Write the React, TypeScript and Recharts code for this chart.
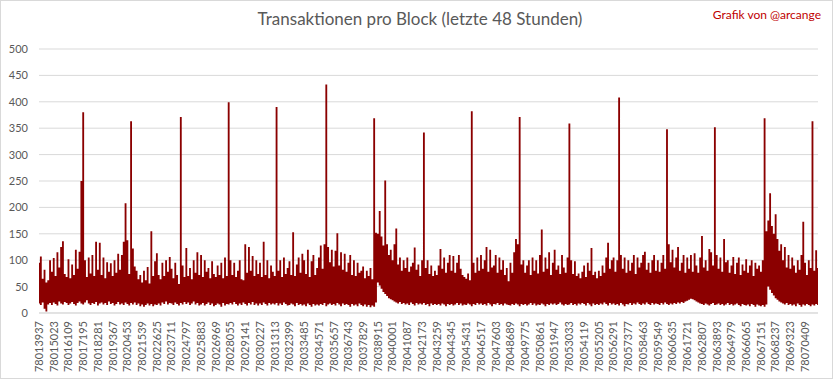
import React from 'react';
import { AreaChart, Area, XAxis, YAxis, CartesianGrid } from 'recharts';

// tick labels along the x axis (one every 1086 blocks)
const blockLabels = [
  '78013937', '78015023', '78016109', '78017195', '78018281', '78019367', '78020453', '78021539',
  '78022625', '78023711', '78024797', '78025883', '78026969', '78028055', '78029141', '78030227',
  '78031313', '78032399', '78033485', '78034571', '78035657', '78036743', '78037829', '78038915',
  '78040001', '78041087', '78042173', '78043259', '78044345', '78045431', '78046517', '78047603',
  '78048689', '78049775', '78050861', '78051947', '78053033', '78054119', '78055205', '78056291',
  '78057377', '78058463', '78059549', '78060635', '78061721', '78062807', '78063893', '78064979',
  '78066065', '78067151', '78068237', '78069323', '78070409',
];

// max transactions per group of blocks, 8 groups per label interval
const txHigh = [
  95, 107, 65, 82, 58, 62, 100, 78,
  104, 70, 115, 86, 125, 136, 74, 68,
  102, 66, 92, 72, 120, 84, 116, 250,
  380, 100, 68, 105, 75, 110, 70, 135,
  82, 133, 72, 105, 66, 96, 78, 94,
  70, 100, 76, 112, 82, 110, 135, 208,
  138, 74, 363, 122, 88, 80, 64, 72,
  58, 80, 62, 87, 56, 155, 70, 98,
  113, 72, 64, 95, 70, 100, 78, 106,
  84, 66, 95, 72, 55, 371, 90, 68,
  123, 70, 85, 64, 100, 76, 115, 72,
  110, 68, 100, 78, 85, 66, 98, 74,
  68, 90, 72, 95, 66, 105, 70, 399,
  100, 72, 95, 68, 80, 100, 64, 62,
  130, 76, 125, 80, 108, 70, 100, 74,
  95, 68, 135, 72, 100, 66, 90, 78,
  70, 390, 80, 100, 68, 105, 74, 85,
  98, 72, 153, 70, 92, 105, 76, 112,
  100, 74, 120, 68, 98, 110, 72, 85,
  105, 128, 84, 130, 433, 125, 96, 120,
  88, 118, 151, 90, 115, 82, 112, 78,
  95, 110, 72, 100, 70, 95, 76, 80,
  88, 66, 80, 70, 85, 64, 369, 152,
  150, 193, 145, 128, 251, 130, 110, 120,
  100, 130, 160, 92, 105, 80, 100, 85,
  105, 78, 88, 95, 124, 82, 92, 70,
  100, 342, 85, 100, 74, 90, 70, 80,
  72, 90, 121, 84, 105, 76, 95, 110,
  80, 108, 76, 95, 110, 84, 72, 68,
  65, 75, 62, 382, 95, 76, 105, 80,
  110, 84, 100, 125, 78, 120, 86, 90,
  110, 76, 105, 82, 100, 72, 85, 60,
  95, 76, 115, 140, 130, 371, 92, 100,
  76, 90, 100, 72, 105, 80, 100, 75,
  110, 158, 78, 105, 84, 115, 72, 95,
  120, 82, 90, 74, 110, 86, 76, 105,
  359, 100, 74, 98, 70, 75, 66, 78,
  90, 68, 95, 80, 123, 72, 78, 66,
  80, 70, 90, 76, 105, 133, 84, 100,
  105, 78, 100, 408, 110, 84, 105, 76,
  100, 80, 95, 110, 74, 105, 86, 95,
  110, 116, 82, 95, 76, 100, 110, 80,
  100, 78, 95, 110, 84, 348, 130, 96,
  120, 86, 105, 125, 80, 95, 110, 76,
  105, 84, 110, 78, 113, 90, 76, 105,
  146, 86, 100, 80, 121, 115, 90, 352,
  110, 84, 105, 78, 140, 96, 100, 76,
  90, 106, 74, 95, 105, 72, 92, 80,
  102, 76, 90, 100, 70, 95, 84, 90,
  78, 100, 369, 155, 175, 227, 165, 150,
  187, 140, 118, 130, 100, 125, 86, 110,
  84, 105, 90, 76, 100, 82, 110, 173,
  95, 72, 100, 85, 363, 80, 119, 85,
];

// min transactions per group of blocks
const txLow = [
  18, 15, 20, 8, 3, 16, 19, 15,
  20, 17, 14, 22, 18, 16, 21, 19,
  15, 18, 21, 17, 14, 19, 22, 18,
  16, 20, 24, 18, 15, 19, 17, 21,
  14, 18, 20, 16, 19, 15, 22, 17,
  19, 14, 17, 21, 16, 18, 15, 20,
  17, 14, 19, 16, 20, 15, 18, 13,
  16, 12, 15, 18, 14, 17, 13, 16,
  15, 18, 14, 20, 17, 22, 16, 19,
  18, 15, 20, 17, 14, 19, 16, 21,
  17, 20, 15, 18, 22, 16, 19, 14,
  16, 19, 14, 17, 20, 15, 18, 13,
  15, 18, 16, 12, 19, 14, 17, 16,
  19, 16, 21, 17, 14, 18, 15, 20,
  17, 14, 19, 16, 21, 15, 18, 14,
  18, 15, 20, 17, 14, 19, 16, 18,
  16, 19, 14, 18, 15, 20, 17, 14,
  15, 18, 16, 13, 19, 15, 17, 14,
  16, 13, 18, 15, 12, 17, 14, 16,
  14, 17, 15, 19, 13, 16, 18, 15,
  17, 14, 19, 16, 13, 18, 15, 17,
  15, 12, 17, 14, 16, 13, 18, 15,
  13, 16, 12, 15, 11, 14, 12, 20,
  58, 52, 46, 40, 36, 32, 28, 26,
  24, 22, 20, 18, 21, 17, 19, 16,
  18, 15, 20, 17, 14, 19, 16, 18,
  16, 19, 15, 17, 13, 18, 15, 17,
  15, 17, 14, 18, 16, 13, 17, 15,
  17, 14, 16, 19, 15, 18, 14, 16,
  15, 18, 16, 13, 17, 15, 19, 16,
  18, 15, 17, 14, 19, 16, 13, 17,
  16, 19, 15, 17, 14, 18, 16, 15,
  14, 17, 15, 18, 16, 13, 17, 15,
  17, 14, 16, 19, 15, 18, 14, 16,
  15, 18, 16, 13, 17, 15, 18, 16,
  18, 15, 17, 20, 16, 14, 17, 15,
  16, 19, 15, 17, 14, 18, 16, 19,
  17, 14, 19, 16, 13, 18, 15, 17,
  15, 18, 16, 20, 17, 14, 19, 16,
  18, 15, 17, 14, 19, 16, 13, 17,
  16, 19, 15, 18, 16, 20, 17, 15,
  18, 16, 20, 17, 15, 19, 16, 18,
  17, 15, 19, 16, 20, 17, 15, 18,
  16, 19, 17, 20, 18, 21, 19, 22,
  23, 25, 27, 26, 24, 22, 20, 18,
  17, 15, 18, 16, 14, 17, 19, 15,
  16, 18, 15, 17, 14, 16, 19, 15,
  17, 14, 16, 18, 15, 13, 17, 15,
  14, 16, 13, 17, 15, 12, 16, 14,
  13, 15, 12, 16, 50, 44, 38, 33,
  28, 25, 22, 20, 18, 16, 19, 15,
  17, 14, 16, 13, 18, 15, 12, 16,
  14, 17, 15, 13, 16, 14, 17, 15,
];

const yTicks = [0, 50, 100, 150, 200, 250, 300, 350, 400, 450, 500];

const GROUPS_PER_LABEL = 8;

const chartData = txHigh.map((high, i) => ({
  block: i % GROUPS_PER_LABEL === 0 ? blockLabels[i / GROUPS_PER_LABEL] : '',
  range: [txLow[i], high],
}));

const BlockTick = ({ x, y, payload }: any) => {
  if (!payload || !payload.value) return null;
  return (
    <text
      x={x}
      y={y}
      transform={`rotate(-90, ${x}, ${y})`}
      textAnchor="end"
      dy="0.35em"
      fill="#595959"
      fontSize={11}
      fontFamily="Lato"
    >
      {payload.value}
    </text>
  );
};

export default function App() {
  return (
    <div
      style={{
        position: 'absolute',
        left: 0,
        top: 0,
        width: 833,
        height: 379,
        background: '#ffffff',
        fontFamily: 'Lato',
      }}
    >
      <div
        style={{
          position: 'absolute',
          left: 0,
          top: 0,
          width: 833,
          height: 379,
          boxSizing: 'border-box',
          border: '1px solid #d9d9d9',
          pointerEvents: 'none',
        }}
      />
      <div
        style={{
          position: 'absolute',
          top: 8,
          left: 0,
          width: 840,
          textAlign: 'center',
          fontSize: 17,
          color: '#595959',
        }}
      >
        Transaktionen pro Block (letzte 48 Stunden)
      </div>
      <div
        style={{
          position: 'absolute',
          top: 7,
          right: 12,
          fontSize: 12,
          color: '#c00000',
        }}
      >
        Grafik von @arcange
      </div>
      <AreaChart
        width={833}
        height={379}
        data={chartData}
        margin={{ top: 49, right: 15, bottom: 0, left: 0 }}
      >
        <CartesianGrid vertical={false} stroke="#d9d9d9" />
        <XAxis
          dataKey="block"
          interval={GROUPS_PER_LABEL - 1}
          height={66}
          tickLine={false}
          axisLine={{ stroke: '#d9d9d9' }}
          tick={<BlockTick />}
        />
        <YAxis
          width={39}
          domain={[0, 500]}
          ticks={yTicks}
          tickLine={false}
          axisLine={false}
          tickSize={0}
          tickMargin={11}
          tick={{ fill: '#595959', fontSize: 11, fontFamily: 'Lato' }}
        />
        <Area
          dataKey="range"
          type="step"
          stroke="none"
          fill="#8b0000"
          fillOpacity={1}
          dot={false}
          activeDot={false}
          isAnimationActive={false}
        />
      </AreaChart>
    </div>
  );
}
